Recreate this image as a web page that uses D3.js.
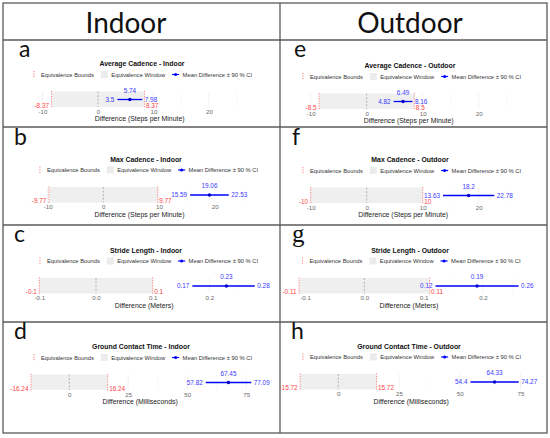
<!DOCTYPE html>
<html>
<head>
<meta charset="utf-8">
<script src="https://cdn.jsdelivr.net/npm/d3@7"></script>
<style>
  html, body { margin: 0; padding: 0; background: #fff; }
  svg { display: block; }
</style>
</head>
<body>
<svg id="chart" width="550" height="438"></svg>
<script>
// ---------------- DATA ----------------
const columnHeaders = ["Indoor", "Outdoor"];
const panelLetters = ["a", "b", "c", "d", "e", "f", "g", "h"];
const panelTitles = [
  "Average Cadence - Indoor", "Max Cadence - Indoor", "Stride Length - Indoor", "Ground Contact Time - Indoor",
  "Average Cadence - Outdoor", "Max Cadence - Outdoor", "Stride Length - Outdoor", "Ground Contact Time - Outdoor"
];
const axisTitles = [
  "Difference (Steps per Minute)", "Difference (Steps per Minute)", "Difference (Meters)", "Difference (Milliseconds)",
  "Difference (Steps per Minute)", "Difference (Steps per Minute)", "Difference (Meters)", "Difference (Milliseconds)"
];
const lowerBounds = [-8.37, -9.77, -0.1, -16.24, -8.5, -10, -0.11, -15.72];
const upperBounds = [8.37, 9.77, 0.1, 16.24, 8.5, 10, 0.11, 15.72];
const meanDiffs   = [5.74, 19.06, 0.23, 67.45, 6.49, 18.2, 0.19, 64.33];
const ciLows      = [3.5, 15.59, 0.17, 57.82, 4.82, 13.63, 0.12, 54.4];
const ciHighs     = [7.98, 22.53, 0.28, 77.09, 8.16, 22.78, 0.26, 74.27];
const tickValues = [
  [-10, 0, 10, 20], [-10, 0, 10, 20], [-0.1, 0, 0.1, 0.2], [0, 25, 50, 75],
  [-10, 0, 10, 20], [-10, 0, 10, 20], [-0.1, 0, 0.1, 0.2], [0, 25, 50, 75]
];
const tickLabels = [
  ["-10", "0", "10", "20"], ["-10", "0", "10", "20"], ["-0.1", "0.0", "0.1", "0.2"], ["0", "25", "50", "75"],
  ["-10", "0", "10", "20"], ["-10", "0", "10", "20"], ["-0.1", "0.0", "0.1", "0.2"], ["0", "25", "50", "75"]
];
const minorStep = [5, 5, 0.05, 12.5, 5, 5, 0.05, 12.5];
const panelExtent = [
  [-12, 27], [-12, 25], [-0.13, 0.3], [-20, 80],
  [-12, 27], [-12, 25], [-0.13, 0.28], [-20, 80]
];
const legendLabels = ["Equivalence Bounds", "Equivalence Window", "Mean Difference \u00b1 90 % CI"];

// ---------------- LAYOUT (positions only) ----------------
const table = { left: 3, right: 547, top: 3, bottom: 433, mid: 280, rows: [40, 127, 225, 322] };
const layout = [
  // scale anchors: dom -> rng ; bandTop ; title center ; legend center ; letter x
  { dom: [-10, 20], rng: [42.5, 209], bandTop: 91.5, tx: 142, lx: 143, letterX: 19, letterY: 57 },
  { dom: [-10, 20], rng: [47.6, 214.7], bandTop: 187, tx: 146, lx: 149, letterX: 14, letterY: 145 },
  { dom: [-0.1, 0.2], rng: [39.3, 209.4], bandTop: 278, tx: 146, lx: 149, letterX: 14, letterY: 242 },
  { dom: [0, 75], rng: [69.3, 246.3], bandTop: 374.5, tx: 141, lx: 143, letterX: 14, letterY: 339 },
  { dom: [-10, 20], rng: [310.7, 478.7], bandTop: 93.5, tx: 410, lx: 412, letterX: 294, letterY: 57 },
  { dom: [-10, 20], rng: [310.7, 478.7], bandTop: 187.5, tx: 410, lx: 412, letterX: 292, letterY: 145 },
  { dom: [-0.1, 0.2], rng: [305, 483], bandTop: 278, tx: 410, lx: 411.5, letterX: 292, letterY: 242, serif: true },
  { dom: [0, 75], rng: [338.3, 520.5], bandTop: 374, tx: 409, lx: 412, letterX: 291, letterY: 339 }
];

const BAND_H = 15.5;
const FONT = "'Liberation Sans', Arial, Helvetica, sans-serif";
const svg = d3.select("#chart");
svg.append("rect").attr("width", 550).attr("height", 438).attr("fill", "#fff");

// ---------------- TABLE ----------------
const grid = svg.append("g").attr("stroke", "#5a5a5a").attr("stroke-width", 1.3).attr("fill", "none");
grid.append("rect").attr("x", table.left).attr("y", table.top)
  .attr("width", table.right - table.left).attr("height", table.bottom - table.top);
grid.append("line").attr("x1", table.mid).attr("x2", table.mid).attr("y1", table.top).attr("y2", table.bottom);
table.rows.forEach(y => grid.append("line").attr("x1", table.left).attr("x2", table.right).attr("y1", y).attr("y2", y));

svg.selectAll("text.header").data(columnHeaders).join("text")
  .attr("class", "header")
  .attr("x", (d, i) => i === 0 ? 126 : 410)
  .attr("y", 33.3)
  .attr("text-anchor", "middle")
  .attr("font-family", "Lato, 'Open Sans', sans-serif")
  .attr("font-size", 28)
  .attr("fill", "#111")
  .text(d => d);

// ---------------- PANELS ----------------
panelLetters.forEach((letter, i) => {
  const L = layout[i];
  const g = svg.append("g");
  const x = d3.scaleLinear().domain(L.dom).range(L.rng);
  const top = L.bandTop, bot = L.bandTop + BAND_H, yLine = top + 8;

  // panel letter
  g.append("text").attr("x", L.letterX).attr("y", L.letterY)
    .attr("font-family", L.serif ? "'Liberation Serif', 'DejaVu Serif', serif" : "Lato, 'Open Sans', sans-serif")
    .attr("font-size", L.serif ? 25 : 23).attr("fill", "#111").text(letter);

  // title
  g.append("text").attr("x", L.tx).attr("y", top - 27.5).attr("dy", "0.35em")
    .attr("text-anchor", "middle").attr("font-family", FONT).attr("font-weight", "bold")
    .attr("font-size", 6.9).attr("fill", "#111").text(panelTitles[i]);

  // legend (laid out from text widths)
  const leg = g.append("g");
  const ly = top - 17;
  let cx = 0;
  const items = [];
  legendLabels.forEach((lab, k) => {
    const it = leg.append("g").attr("transform", `translate(${cx},0)`);
    if (k === 0) {
      it.append("line").attr("x1", 0).attr("x2", 0).attr("y1", ly - 3.5).attr("y2", ly + 3.5)
        .attr("stroke", "#ff6b6b").attr("stroke-width", 0.9).attr("stroke-dasharray", "1.2,1.3");
    } else if (k === 1) {
      it.append("rect").attr("x", -3.5).attr("y", ly - 3.5).attr("width", 7).attr("height", 7).attr("fill", "#ebebeb");
    } else {
      it.append("line").attr("x1", -3.5).attr("x2", 3.5).attr("y1", ly).attr("y2", ly)
        .attr("stroke", "#0000ff").attr("stroke-width", 1.2);
      it.append("circle").attr("cx", 0).attr("cy", ly).attr("r", 1.5).attr("fill", "#0000ff");
    }
    const t = it.append("text").attr("x", 7).attr("y", ly).attr("dy", "0.35em")
      .attr("font-family", FONT).attr("font-size", 5.8).attr("fill", "#333").text(lab);
    const w = t.node().getComputedTextLength();
    cx += 7 + w + 10.5;
  });
  const legW = cx - 10.5;
  leg.attr("transform", `translate(${L.lx - legW / 2},0)`);

  // plot panel: gridlines
  const ext = panelExtent[i];
  const majors = tickValues[i];
  const minors = d3.range(Math.ceil(ext[0] / minorStep[i]), Math.floor(ext[1] / minorStep[i]) + 1)
    .map(k => +(k * minorStep[i]).toFixed(4))
    .filter(v => !majors.some(m => Math.abs(m - v) < 1e-9));
  g.selectAll("line.minor").data(minors).join("line")
    .attr("x1", d => x(d)).attr("x2", d => x(d)).attr("y1", top).attr("y2", bot)
    .attr("stroke", "#f4f4f4").attr("stroke-width", 0.5);
  g.selectAll("line.major").data(majors).join("line")
    .attr("x1", d => x(d)).attr("x2", d => x(d)).attr("y1", top).attr("y2", bot)
    .attr("stroke", "#ececec").attr("stroke-width", 0.7);

  // equivalence window
  g.append("rect").attr("x", x(lowerBounds[i])).attr("y", top)
    .attr("width", x(upperBounds[i]) - x(lowerBounds[i])).attr("height", BAND_H)
    .attr("fill", "#efefef");

  // zero line
  g.append("line").attr("x1", x(0)).attr("x2", x(0)).attr("y1", top).attr("y2", bot)
    .attr("stroke", "#9a9a9a").attr("stroke-width", 0.7).attr("stroke-dasharray", "2,1.6");

  // bounds
  [lowerBounds[i], upperBounds[i]].forEach(b => {
    g.append("line").attr("x1", x(b)).attr("x2", x(b)).attr("y1", top - 0.5).attr("y2", bot + 0.5)
      .attr("stroke", "#ff6b6b").attr("stroke-width", 0.8).attr("stroke-dasharray", "1.2,1.3");
  });

  // axis
  const axis = d3.axisBottom(x).tickValues(majors).tickFormat((d, k) => tickLabels[i][k]).tickSize(0).tickPadding(0);
  const ag = g.append("g").attr("transform", `translate(0,${bot + 2.5})`).call(axis);
  ag.select(".domain").remove();
  ag.selectAll("text").attr("font-family", FONT).attr("font-size", 6.2).attr("fill", "#6b6b6b").attr("dy", "0.71em");

  g.append("text").attr("x", (x(ext[0]) + x(ext[1])) / 2 + 0).attr("y", bot + 12).attr("dy", "0.35em")
    .attr("text-anchor", "middle").attr("font-family", FONT).attr("font-size", 6.9).attr("fill", "#222")
    .text(axisTitles[i]);

  // bound labels
  g.append("text").attr("x", x(lowerBounds[i]) - 2.5).attr("y", yLine + 6).attr("dy", "0.35em")
    .attr("text-anchor", "end").attr("font-family", FONT).attr("font-size", 6.4).attr("fill", "#ff4545")
    .text(String(lowerBounds[i]));
  g.append("text").attr("x", x(upperBounds[i]) + 1.5).attr("y", yLine + 6).attr("dy", "0.35em")
    .attr("text-anchor", "start").attr("font-family", FONT).attr("font-size", 6.4).attr("fill", "#ff4545")
    .text(String(upperBounds[i]));

  // CI line + point
  g.append("line").attr("x1", x(ciLows[i])).attr("x2", x(ciHighs[i])).attr("y1", yLine).attr("y2", yLine)
    .attr("stroke", "#0000ff").attr("stroke-width", 1.3);
  g.append("circle").attr("cx", x(meanDiffs[i])).attr("cy", yLine).attr("r", 1.7).attr("fill", "#0000cc");

  // CI labels
  const blue = "#3a3aff";
  g.append("text").attr("x", x(meanDiffs[i])).attr("y", yLine - 9).attr("dy", "0.35em")
    .attr("text-anchor", "middle").attr("font-family", FONT).attr("font-size", 6.4).attr("fill", blue)
    .text(String(meanDiffs[i]));
  g.append("text").attr("x", x(ciLows[i]) - 3).attr("y", yLine).attr("dy", "0.35em")
    .attr("text-anchor", "end").attr("font-family", FONT).attr("font-size", 6.4).attr("fill", blue)
    .text(String(ciLows[i]));
  g.append("text").attr("x", x(ciHighs[i]) + 2.5).attr("y", yLine).attr("dy", "0.35em")
    .attr("text-anchor", "start").attr("font-family", FONT).attr("font-size", 6.4).attr("fill", blue)
    .text(String(ciHighs[i]));
});
</script>
</body>
</html>
